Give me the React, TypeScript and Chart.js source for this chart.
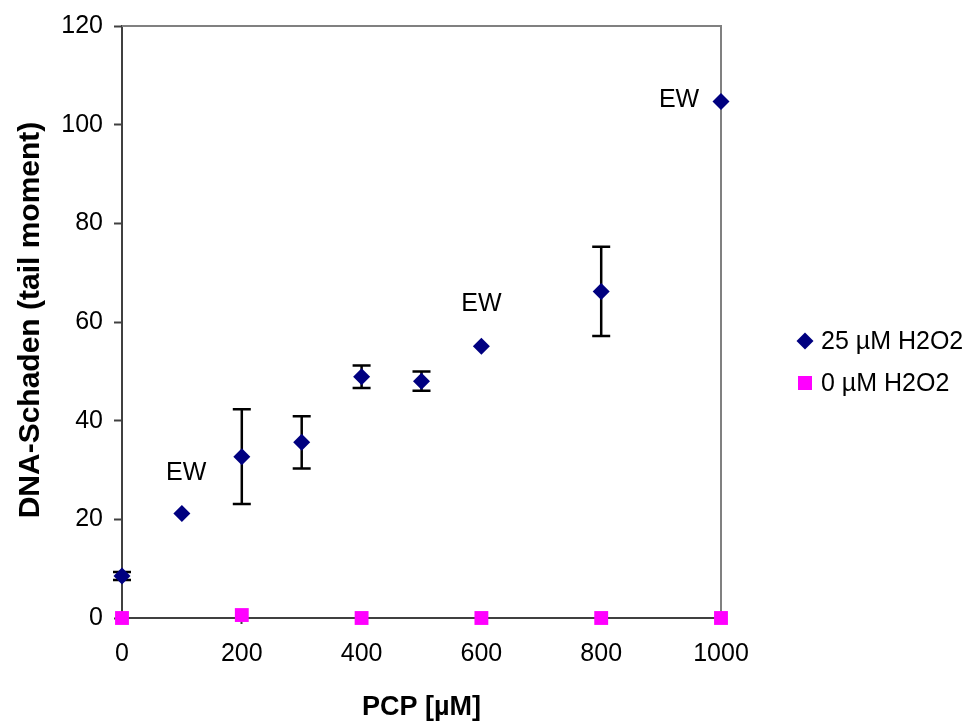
import React, { useEffect, useRef } from "react";
import { Chart, registerables } from "chart.js";

Chart.register(...registerables);

// ---- data ----
const pcp25 = [0, 100, 200, 300, 400, 500, 600, 800, 1000];
const damage25 = [8.5, 21.2, 32.7, 35.6, 48.9, 48.0, 55.1, 66.2, 104.7];
const error25: (number | null)[] = [0.8, null, 9.6, 5.3, 2.3, 1.95, null, 9.05, null];

const pcp0 = [0, 200, 400, 600, 800, 1000];
const damage0 = [0, 0.6, 0, 0, 0, 0];

const seriesLabels = ["25 µM H2O2", "0 µM H2O2"];

const xTicks = [0, 200, 400, 600, 800, 1000];
const yTicks = [0, 20, 40, 60, 80, 100, 120];

const ewText = ["EW", "EW", "EW"];
const ewX = [107, 600, 930];
const ewY = [29.3, 63.7, 105];

const xTitle = "PCP [µM]";
const yTitle = "DNA-Schaden (tail moment)";

const FONT = "'Liberation Sans', Arial, sans-serif";
const NAVY = "#000080";
const MAGENTA = "#FF00FF";

const decorPlugin = {
  id: "decor",
  beforeDatasetsDraw(chart: any) {
    const { ctx, chartArea: a, scales } = chart;
    const x = scales.x;
    const y = scales.y;
    ctx.save();
    // top and right frame
    ctx.strokeStyle = "#808080";
    ctx.lineWidth = 2;
    ctx.beginPath();
    ctx.moveTo(a.left, a.top);
    ctx.lineTo(a.right, a.top);
    ctx.lineTo(a.right, a.bottom);
    ctx.stroke();
    // error bars
    ctx.strokeStyle = "#000000";
    ctx.lineWidth = 2.5;
    pcp25.forEach((v, i) => {
      const e = error25[i];
      if (e == null) return;
      const px = x.getPixelForValue(v);
      const yt = y.getPixelForValue(damage25[i] + e);
      const yb = y.getPixelForValue(damage25[i] - e);
      ctx.beginPath();
      ctx.moveTo(px, yt);
      ctx.lineTo(px, yb);
      ctx.moveTo(px - 9, yt);
      ctx.lineTo(px + 9, yt);
      ctx.moveTo(px - 9, yb);
      ctx.lineTo(px + 9, yb);
      ctx.stroke();
    });
    ctx.restore();
  },
  afterDraw(chart: any) {
    const { ctx, chartArea: a, scales } = chart;
    const x = scales.x;
    const y = scales.y;
    ctx.save();
    // EW annotations
    ctx.fillStyle = "#000";
    ctx.font = `25px ${FONT}`;
    ctx.textAlign = "center";
    ctx.textBaseline = "middle";
    ewText.forEach((t, i) => {
      ctx.fillText(t, x.getPixelForValue(ewX[i]), y.getPixelForValue(ewY[i]));
    });
    // x title
    ctx.font = `bold 27px ${FONT}`;
    ctx.textAlign = "center";
    ctx.textBaseline = "alphabetic";
    ctx.fillText(xTitle, (a.left + a.right) / 2, 715);
    // y title
    ctx.save();
    ctx.translate(39, (a.top + a.bottom) / 2 - 2);
    ctx.rotate(-Math.PI / 2);
    ctx.font = `bold 30px ${FONT}`;
    ctx.fillText(yTitle, 0, 0);
    ctx.restore();
    // legend
    const lx = 805;
    const ly = [341, 383];
    ctx.fillStyle = NAVY;
    ctx.beginPath();
    ctx.moveTo(lx - 8.5, ly[0]);
    ctx.lineTo(lx, ly[0] - 8.5);
    ctx.lineTo(lx + 8.5, ly[0]);
    ctx.lineTo(lx, ly[0] + 8.5);
    ctx.closePath();
    ctx.fill();
    ctx.fillStyle = MAGENTA;
    ctx.fillRect(lx - 7, ly[1] - 7, 14, 14);
    ctx.fillStyle = "#000";
    ctx.font = `25px ${FONT}`;
    ctx.textAlign = "left";
    ctx.textBaseline = "middle";
    ctx.fillText(seriesLabels[0], 821, ly[0] + 1);
    ctx.fillText(seriesLabels[1], 821, ly[1] + 1);
    ctx.restore();
  },
};

export default function App() {
  const ref = useRef<HTMLCanvasElement | null>(null);

  useEffect(() => {
    if (!ref.current) return;
    const chart = new Chart(ref.current, {
      type: "scatter",
      data: {
        datasets: [
          {
            label: seriesLabels[0],
            data: pcp25.map((v, i) => ({ x: v, y: damage25[i] })),
            pointStyle: "rectRot",
            pointRadius: 8.5,
            pointHoverRadius: 8.5,
            backgroundColor: NAVY,
            borderColor: NAVY,
            borderWidth: 0,
            showLine: false,
            clip: false,
          } as any,
          {
            label: seriesLabels[1],
            data: pcp0.map((v, i) => ({ x: v, y: damage0[i] })),
            pointStyle: "rect",
            pointRadius: 9.8,
            pointHoverRadius: 9.8,
            backgroundColor: MAGENTA,
            borderColor: MAGENTA,
            borderWidth: 0,
            showLine: false,
            clip: false,
          } as any,
        ],
      },
      options: {
        animation: false,
        responsive: false,
        maintainAspectRatio: false,
        events: [],
        layout: { padding: { left: 0, top: 23, right: 247, bottom: 0 } },
        plugins: {
          legend: { display: false },
          tooltip: { enabled: false },
        },
        scales: {
          x: {
            type: "linear",
            min: 0,
            max: 1000,
            afterBuildTicks: (s: any) => {
              s.ticks = xTicks.map((v) => ({ value: v }));
            },
            afterFit: (s: any) => {
              s.height = 107;
            },
            grid: {
              drawOnChartArea: false,
              drawTicks: true,
              tickLength: 6,
              tickColor: "#404040",
              tickWidth: 2,
            },
            border: { color: "#404040", width: 2 },
            ticks: {
              color: "#000",
              font: { family: FONT, size: 25 },
              padding: 15,
              maxRotation: 0,
              autoSkip: false,
              callback: (v: any) => String(v),
            },
          },
          y: {
            type: "linear",
            min: 0,
            max: 120,
            afterBuildTicks: (s: any) => {
              s.ticks = yTicks.map((v) => ({ value: v }));
            },
            afterFit: (s: any) => {
              s.width = 122;
            },
            grid: {
              drawOnChartArea: false,
              drawTicks: true,
              tickLength: 8,
              tickColor: "#404040",
              tickWidth: 2,
            },
            border: { color: "#404040", width: 2 },
            ticks: {
              color: "#000",
              font: { family: FONT, size: 25 },
              padding: 11,
              autoSkip: false,
              callback: (v: any) => String(v),
            },
          },
        },
      },
      plugins: [decorPlugin],
    } as any);
    return () => chart.destroy();
  }, []);

  return (
    <div style={{ position: "absolute", left: 0, top: 0, width: 968, height: 725, background: "#fff" }}>
      <canvas ref={ref} width={968} height={725} style={{ width: 968, height: 725, display: "block" }} />
    </div>
  );
}
